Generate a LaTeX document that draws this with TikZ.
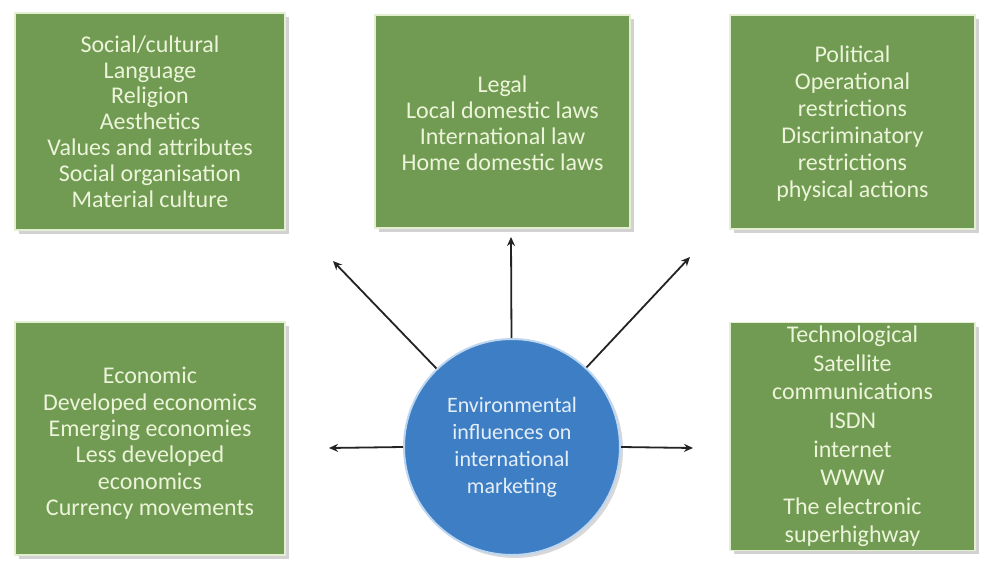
\documentclass[tikz,border=0pt]{standalone}
\usepackage{fontspec}
\setmainfont{Carlito}
\usetikzlibrary{shadows,arrows.meta}
\definecolor{boxgreen}{RGB}{113,155,82}
\definecolor{boxedge}{RGB}{228,238,208}
\definecolor{boxtext}{RGB}{236,244,218}
\definecolor{circblue}{RGB}{62,126,196}
\definecolor{circedge}{RGB}{190,215,240}
\definecolor{circtext}{RGB}{228,238,248}
\definecolor{arrowcol}{RGB}{35,35,35}
\newcommand{\lowered}[2]{\raisebox{-#1}[\height][\depth]{\begin{tabular}{@{}c@{}}#2\end{tabular}}}
\tikzset{
  infobox/.style={rectangle, fill=boxgreen, draw=boxedge, line width=1.5pt,
    text=boxtext, align=center, font=\fontsize{24}{25.8}\selectfont,
    drop shadow={shadow xshift=4pt, shadow yshift=-4pt, opacity=0.35, fill=gray}},
  hub/.style={circle, fill=circblue, draw=circedge, line width=2pt, text=circtext,
    align=center, font=\fontsize{22}{27}\selectfont, minimum size=216pt, inner sep=0pt,
    drop shadow={shadow xshift=3pt, shadow yshift=-3pt, opacity=0.3, fill=gray}},
  link/.style={draw=arrowcol, line width=1.8pt, -{Stealth[length=9pt,width=8pt]}}
}
\begin{document}
\begin{tikzpicture}[x=1pt,y=-1pt]
\useasboundingbox[fill=white] (0,0) rectangle (987,562);
\node[infobox, minimum width=270pt, minimum height=217pt] (b1) at (150,121.5)
  {Social/cultural\\Language\\Religion\\Aesthetics\\Values and attributes\\Social organisation\\Material culture};
\node[infobox, minimum width=255pt, minimum height=213pt, font=\fontsize{24}{26}\selectfont] (b2) at (502.5,121.5)
  {\lowered{5pt}{Legal\\Local domestic laws\\International law\\Home domestic laws}};
\node[infobox, minimum width=245pt, minimum height=214pt, font=\fontsize{24}{27}\selectfont] (b3) at (852.5,122)
  {\lowered{3pt}{Political\\Operational\\restrictions\\Discriminatory\\restrictions\\physical actions}};
\node[infobox, minimum width=270pt, minimum height=233pt, font=\fontsize{24}{26.4}\selectfont] (b4) at (150,438.5)
  {\lowered{6pt}{Economic\\Developed economics\\Emerging economies\\Less developed\\economics\\Currency movements}};
\node[infobox, minimum width=245pt, minimum height=227pt, font=\fontsize{24}{28.6}\selectfont] (b5) at (852.5,436.5)
  {Technological\\Satellite\\communications\\ISDN\\internet\\WWW\\The electronic\\superhighway};
\node[hub] (c) at (512,447) {Environmental\\influences on\\international\\marketing};
\coordinate (a1) at (333,261);
\coordinate (a2) at (511,237);
\coordinate (a3) at (690,257);
\coordinate (a4) at (329,448);
\coordinate (a5) at (693,448);
\draw[link] (c) -- (a1);
\draw[link] (c) -- (a2);
\draw[link] (c) -- (a3);
\draw[link] (c.west) -- (a4);
\draw[link] (c.east) -- (a5);
\end{tikzpicture}
\end{document}
